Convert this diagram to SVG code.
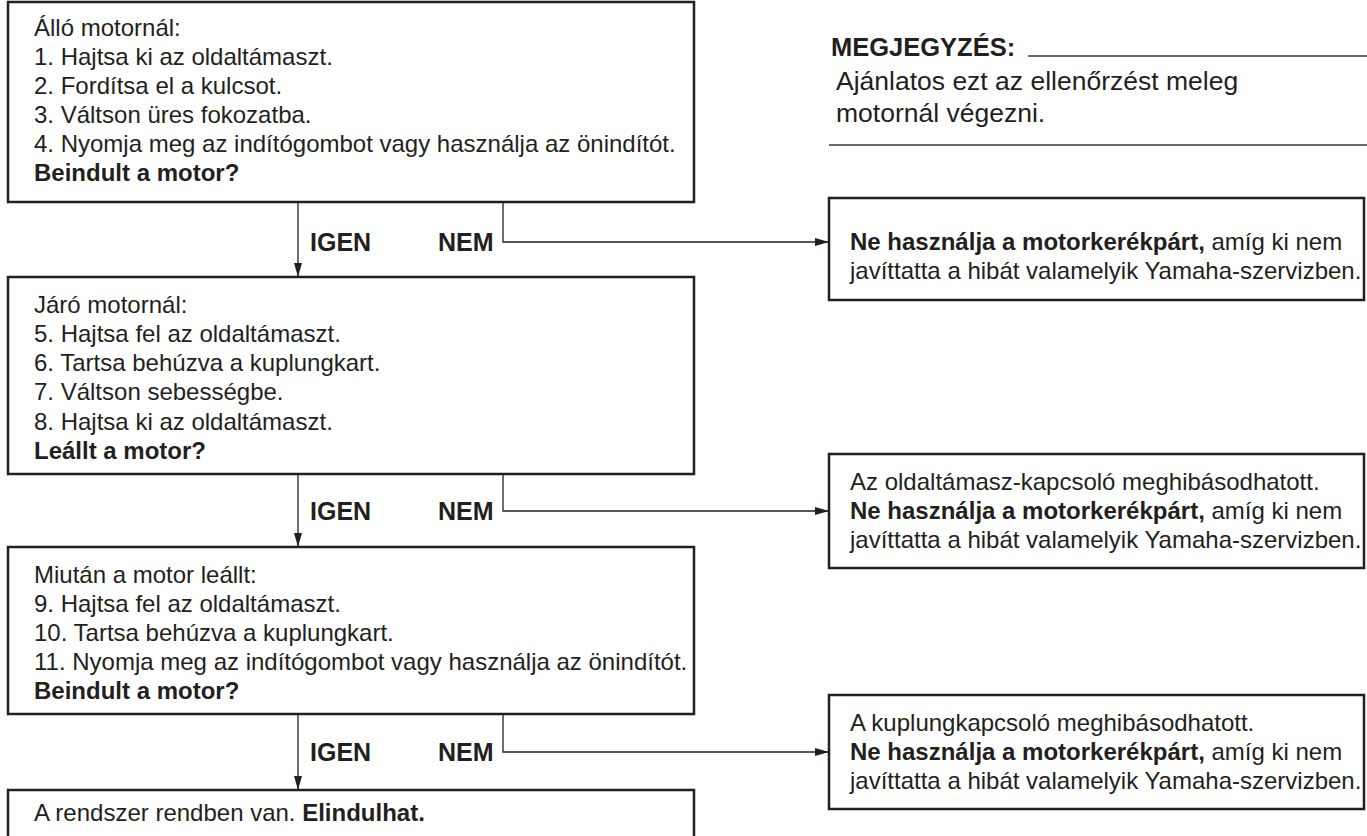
<svg xmlns="http://www.w3.org/2000/svg" width="1367" height="836" viewBox="0 0 1367 836">
<style>
.box{fill:#fff;stroke:#231f20;stroke-width:2.5}
.t{font-family:"Liberation Sans",Arial,sans-serif;font-size:24px;fill:#231f20}
.b{font-weight:bold}
.n{font-size:26.5px}
.lbl{font-family:"Liberation Sans",Arial,sans-serif;font-size:25px;font-weight:bold;fill:#231f20}
.con{fill:none;stroke:#231f20;stroke-width:1.3}
.rule{stroke:#3a3a3a;stroke-width:1.5}
</style>
<defs>
<marker id="ah" markerUnits="userSpaceOnUse" markerWidth="15" markerHeight="9" refX="14" refY="4" orient="auto">
<path d="M0,0 L14,4 L0,8 z" fill="#231f20"/>
</marker>
</defs>
<rect width="1367" height="836" fill="#fff"/>

<g id="note">
<text class="t b" x="831" y="56" style="font-size:25.5px">MEGJEGYZÉS:</text>
<line class="rule" x1="1028" y1="56" x2="1367" y2="56"/>
<text class="t n" x="836" y="90">Ajánlatos ezt az ellenőrzést meleg</text>
<text class="t n" x="836" y="122">motornál végezni.</text>
<line class="rule" x1="829" y1="145" x2="1367" y2="145"/>
</g>

<g id="connectors">
<line class="con" x1="298" y1="202" x2="298" y2="277" marker-end="url(#ah)"/>
<polyline class="con" points="503,202 503,242 829,242" marker-end="url(#ah)"/>
<line class="con" x1="298" y1="474" x2="298" y2="547" marker-end="url(#ah)"/>
<polyline class="con" points="503,474 503,511 829,511" marker-end="url(#ah)"/>
<line class="con" x1="298" y1="714" x2="298" y2="790" marker-end="url(#ah)"/>
<polyline class="con" points="503,714 503,752 829,752" marker-end="url(#ah)"/>
<text class="lbl" x="310" y="251">IGEN</text>
<text class="lbl" x="438" y="251">NEM</text>
<text class="lbl" x="310" y="520">IGEN</text>
<text class="lbl" x="438" y="520">NEM</text>
<text class="lbl" x="310" y="761">IGEN</text>
<text class="lbl" x="438" y="761">NEM</text>
</g>

<g id="step1">
<rect class="box" x="8" y="2" width="686" height="200"/>
<text class="t" x="34" y="36">Álló motornál:</text>
<text class="t" x="34" y="65">1. Hajtsa ki az oldaltámaszt.</text>
<text class="t" x="34" y="94">2. Fordítsa el a kulcsot.</text>
<text class="t" x="34" y="123">3. Váltson üres fokozatba.</text>
<text class="t" x="34" y="152">4. Nyomja meg az indítógombot vagy használja az önindítót.</text>
<text class="t b" x="34" y="181">Beindult a motor?</text>
</g>

<g id="fail1">
<rect class="box" x="829" y="198" width="535" height="102"/>
<text class="t" x="850" y="250"><tspan class="b">Ne használja a motorkerékpárt,</tspan> amíg ki nem</text>
<text class="t" x="850" y="279">javíttatta a hibát valamelyik Yamaha-szervizben.</text>
</g>

<g id="step2">
<rect class="box" x="8" y="277" width="686" height="197"/>
<text class="t" x="34" y="313">Járó motornál:</text>
<text class="t" x="34" y="342">5. Hajtsa fel az oldaltámaszt.</text>
<text class="t" x="34" y="371">6. Tartsa behúzva a kuplungkart.</text>
<text class="t" x="34" y="400">7. Váltson sebességbe.</text>
<text class="t" x="34" y="430">8. Hajtsa ki az oldaltámaszt.</text>
<text class="t b" x="34" y="459">Leállt a motor?</text>
</g>

<g id="fail2">
<rect class="box" x="829" y="454" width="535" height="114"/>
<text class="t" x="850" y="490">Az oldaltámasz-kapcsoló meghibásodhatott.</text>
<text class="t" x="850" y="519"><tspan class="b">Ne használja a motorkerékpárt,</tspan> amíg ki nem</text>
<text class="t" x="850" y="548">javíttatta a hibát valamelyik Yamaha-szervizben.</text>
</g>

<g id="step3">
<rect class="box" x="8" y="547" width="686" height="167"/>
<text class="t" x="34" y="583">Miután a motor leállt:</text>
<text class="t" x="34" y="612">9. Hajtsa fel az oldaltámaszt.</text>
<text class="t" x="34" y="641">10. Tartsa behúzva a kuplungkart.</text>
<text class="t" x="34" y="670">11. Nyomja meg az indítógombot vagy használja az önindítót.</text>
<text class="t b" x="34" y="699">Beindult a motor?</text>
</g>

<g id="fail3">
<rect class="box" x="829" y="695" width="535" height="114"/>
<text class="t" x="850" y="731">A kuplungkapcsoló meghibásodhatott.</text>
<text class="t" x="850" y="760"><tspan class="b">Ne használja a motorkerékpárt,</tspan> amíg ki nem</text>
<text class="t" x="850" y="789">javíttatta a hibát valamelyik Yamaha-szervizben.</text>
</g>

<g id="ok">
<rect class="box" x="8" y="790" width="686" height="60"/>
<text class="t" x="34" y="821">A rendszer rendben van. <tspan class="b">Elindulhat.</tspan></text>
</g>
</svg>
